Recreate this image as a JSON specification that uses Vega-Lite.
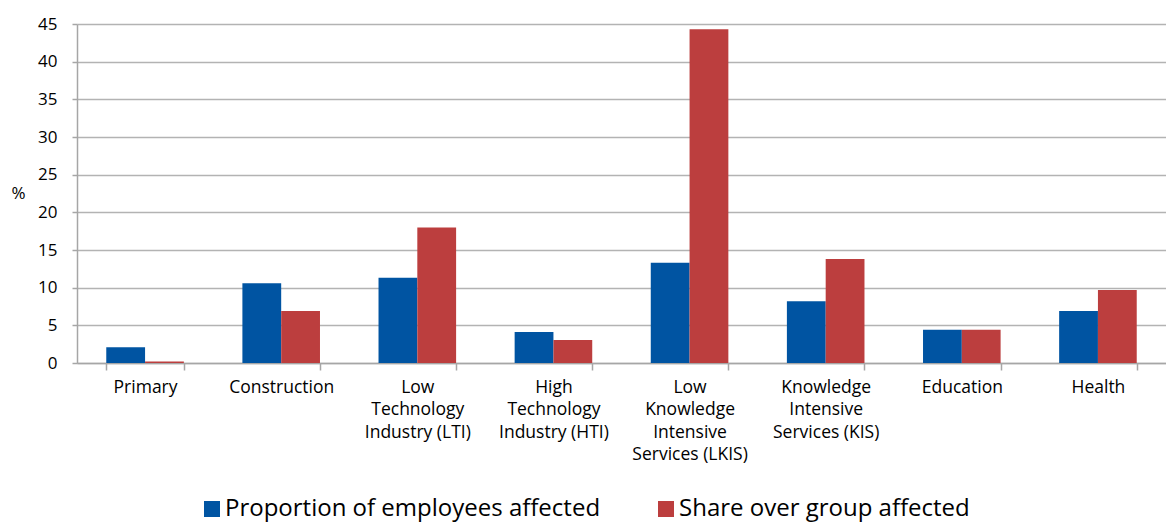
{
  "$schema": "https://vega.github.io/schema/vega-lite/v6.json",
  "width": 1089,
  "height": 339,
  "autosize": {"type": "none"},
  "padding": {"left": 77, "top": 24, "right": 0, "bottom": 159},
  "background": "white",
  "config": {
    "view": {"stroke": null},
    "font": "Open Sans",
    "axis": {"labelColor": "#000000", "titleColor": "#000000", "domainColor": "#A6A6A6", "tickColor": "#A6A6A6", "gridColor": "#B3B3B3"}
  },
  "data": {
    "values": [
      {"sector": "Primary", "series": "Proportion of employees affected", "value": 2.1},
      {"sector": "Primary", "series": "Share over group affected", "value": 0.2},
      {"sector": "Construction", "series": "Proportion of employees affected", "value": 10.6},
      {"sector": "Construction", "series": "Share over group affected", "value": 6.9},
      {"sector": "Low|Technology|Industry (LTI)", "series": "Proportion of employees affected", "value": 11.3},
      {"sector": "Low|Technology|Industry (LTI)", "series": "Share over group affected", "value": 18.0},
      {"sector": "High|Technology|Industry (HTI)", "series": "Proportion of employees affected", "value": 4.1},
      {"sector": "High|Technology|Industry (HTI)", "series": "Share over group affected", "value": 3.05},
      {"sector": "Low|Knowledge|Intensive|Services (LKIS)", "series": "Proportion of employees affected", "value": 13.3},
      {"sector": "Low|Knowledge|Intensive|Services (LKIS)", "series": "Share over group affected", "value": 44.3},
      {"sector": "Knowledge|Intensive|Services (KIS)", "series": "Proportion of employees affected", "value": 8.2},
      {"sector": "Knowledge|Intensive|Services (KIS)", "series": "Share over group affected", "value": 13.8},
      {"sector": "Education", "series": "Proportion of employees affected", "value": 4.4},
      {"sector": "Education", "series": "Share over group affected", "value": 4.4},
      {"sector": "Health", "series": "Proportion of employees affected", "value": 6.9},
      {"sector": "Health", "series": "Share over group affected", "value": 9.7}
    ]
  },
  "mark": {"type": "bar"},
  "encoding": {
    "x": {
      "field": "sector",
      "type": "nominal",
      "sort": null,
      "scale": {"paddingInner": 0.43, "paddingOuter": 0.215},
      "axis": {
        "title": null,
        "labelAngle": 0,
        "labelExpr": "split(datum.label, '|')",
        "labelFontSize": 17.5,
        "labelLineHeight": 22.5,
        "labelPadding": 8,
        "tickBand": "extent",
        "tickSize": 7,
        "domainWidth": 1.5,
        "tickWidth": 1.5,
        "labelBaseline": "top"
      }
    },
    "xOffset": {"field": "series", "type": "nominal", "sort": ["Proportion of employees affected", "Share over group affected"]},
    "y": {
      "field": "value",
      "type": "quantitative",
      "scale": {"domain": [0, 45]},
      "axis": {
        "title": "%",
        "titleAngle": 0,
        "titleX": -59,
        "titleY": 169,
        "titleFontSize": 17,
        "titleFontWeight": "normal",
        "titleAlign": "center",
        "titleBaseline": "middle",
        "values": [0, 5, 10, 15, 20, 25, 30, 35, 40, 45],
        "labelFontSize": 17,
        "labelPadding": 15,
        "tickSize": 5,
        "tickWidth": 1.5,
        "domainWidth": 1.5,
        "gridWidth": 1.5
      }
    },
    "color": {
      "field": "series",
      "type": "nominal",
      "sort": ["Proportion of employees affected", "Share over group affected"],
      "scale": {"range": ["#0054A2", "#BC3E3E"]},
      "legend": {
        "title": null,
        "orient": "none",
        "direction": "horizontal",
        "legendX": 123,
        "legendY": 473,
        "columns": 2,
        "columnPadding": 53,
        "symbolType": "square",
        "symbolSize": 256,
        "symbolStrokeWidth": 0,
        "labelFontSize": 24,
        "labelOffset": 1,
        "labelLimit": 500,
        "labelColor": "#000000"
      }
    }
  }
}
